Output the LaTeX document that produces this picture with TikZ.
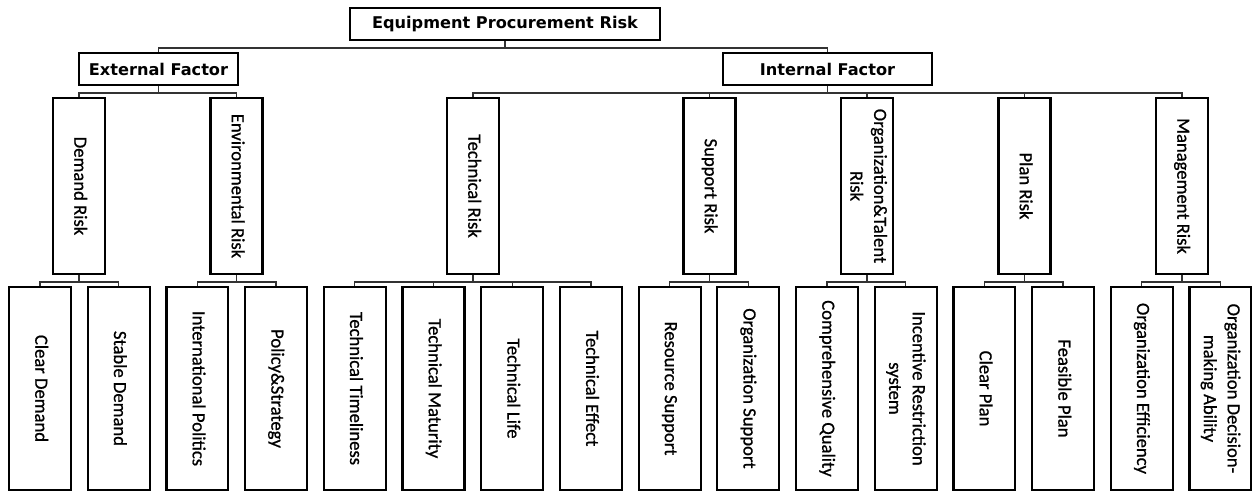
\documentclass[tikz,border=0pt]{standalone}
\usepackage{fontspec}
\setmainfont{Carlito}[FakeBold = 0.8]
\newfontfamily\headfont{DejaVu Sans}
\newcommand{\sidetext}[1]{\rotatebox{-90}{\begin{tabular}{@{}c@{}}#1\end{tabular}}}

\begin{document}
\begin{tikzpicture}[x = 0.02cm, y = -0.02cm,
        box/.style = {draw, line width = 1.25pt, inner sep = 0pt},
        head/.style = {box, minimum height = 0.64cm, font = \headfont\bfseries\fontsize{9.2}{11}\selectfont},
        risk/.style = {box, minimum width = 1.04cm, minimum height = 3.52cm, font = \fontsize{10.6}{13.5}\selectfont},
        item/.style = {box, minimum width = 1.24cm, minimum height = 4.06cm, font = \fontsize{10.6}{13.5}\selectfont},
        link/.style = {line width = 0.75pt, black!80}]
    \useasboundingbox (0, 0) rectangle (1252, 491);
    % goal and the two factors
    \node [head, minimum width = 6.2cm] (epr) at (505, 24) {Equipment Procurement Risk};
    \node [head, minimum width = 3.18cm] (ext) at (158.5, 69) {External Factor};
    \node [head, minimum width = 4.18cm] (int) at (827.5, 69) {Internal Factor};
    % risk groups
    \node [risk] (dem) at (79, 186) {\sidetext{Demand Risk}};
    \node [risk] (env) at (236.5, 186) {\sidetext{Environmental Risk}};
    \node [risk] (tec) at (473, 186) {\sidetext{Technical Risk}};
    \node [risk] (sup) at (709.5, 186) {\sidetext{Support Risk}};
    \node [risk] (org) at (867, 186) {\sidetext{Organization\&Talent\\Risk}};
    \node [risk] (pla) at (1024.5, 186) {\sidetext{Plan Risk}};
    \node [risk] (man) at (1182, 186) {\sidetext{Management Risk}};
    % indicators
    \foreach \name/\txt [count = \i from 0] in {
            cd/Clear Demand, sd/Stable Demand,
            ip/International Politics, ps/Policy\&Strategy,
            tt/Technical Timeliness, tm/Technical Maturity, tl/Technical Life, te/Technical Effect,
            rs/Resource Support, os/Organization Support,
            cq/Comprehensive Quality, ir/Incentive Restriction\\system,
            cp/Clear Plan, fp/Feasible Plan,
            oe/Organization Efficiency, od/Organization Decision-\\making Ability}
        \node [item] (\name) at (40 + 78.7*\i, 388.5) {\sidetext{\txt}};
    % connectors
    \foreach \p/\c in {epr/ext, epr/int,
            ext/dem, ext/env, int/tec, int/sup, int/org, int/pla, int/man,
            dem/cd, dem/sd, env/ip, env/ps, tec/tt, tec/tm, tec/tl, tec/te,
            sup/rs, sup/os, org/cq, org/ir, pla/cp, pla/fp, man/oe, man/od}
        \draw [link] (\p.south) -- ++(0, 7) -| (\c.north);
\end{tikzpicture}
\end{document}
